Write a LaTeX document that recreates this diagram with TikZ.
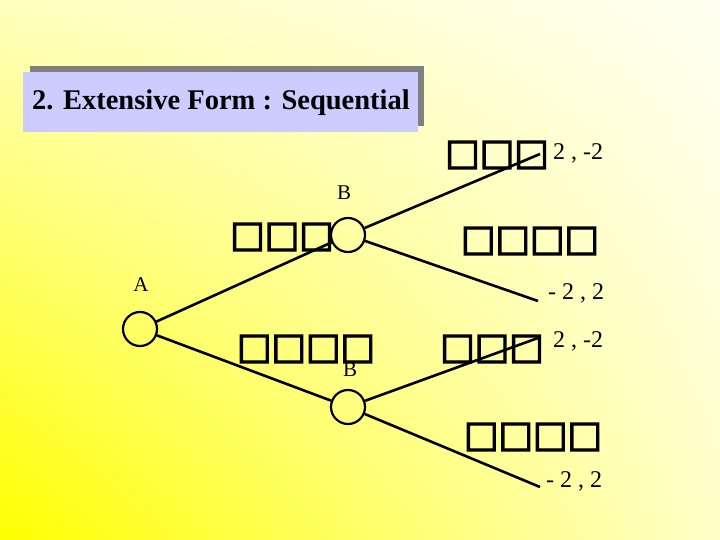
\documentclass[tikz,border=0pt]{standalone}
\usepackage{fontspec}
\setmainfont{Liberation Serif}
\newfontfamily\boxfont[FakeBold=3.5]{DejaVu Sans}
\usepackage{tikz}
\usetikzlibrary{positioning, shadings}
\definecolor{bgdeep}{RGB}{255,255,0}
\definecolor{bgpale}{RGB}{255,255,242}
\definecolor{bgmidA}{RGB}{255,255,190}
\definecolor{bgmidB}{RGB}{255,255,200}
\definecolor{titlefill}{RGB}{204,204,255}
\definecolor{shadowgray}{RGB}{128,128,128}

\begin{document}
\begin{tikzpicture}[x=1pt, y=-1pt,
  decision/.style = {draw, circle, line width=2.2pt, minimum size=34pt, inner sep=0pt},
  move/.style = {line width=2.6pt},
  player/.style = {font=\fontsize{21}{24}\selectfont},
  payoff/.style = {font=\fontsize{24}{28}\selectfont, anchor=west, inner sep=0pt},
  glyphs/.style = {font=\boxfont\fontsize{36.5}{40}\selectfont, inner sep=0pt},
]
\useasboundingbox (0,0) rectangle (720,540);
\shade[lower left=bgdeep, upper right=bgpale, upper left=bgmidA, lower right=bgmidB]
  (0,0) rectangle (720,540);

% title
\fill[shadowgray] (30,66) rectangle (424,126);
\fill[titlefill] (23,72) rectangle (418,132);
\node[font=\bfseries\fontsize{28.5}{32}\selectfont] (title) at (221,103) {2. Extensive Form : Sequential};

% tree
\node[decision] (A) at (140,329) {};
\node[decision] (B1) at (348,235) {};
\node[decision] (B2) at (348,407) {};
\node[player] (labA) at (141,285) {A};
\node[player] (labB1) at (344,193) {B};
\node[player] (labB2) at (350,370) {B};

\coordinate (e1) at (540,154);
\coordinate (e2) at (538,301);
\coordinate (e3) at (538,338);
\coordinate (e4) at (540,487);

\draw[move] (A) -- (B1);
\draw[move] (A) -- (B2);
\draw[move] (B1) -- (e1);
\draw[move] (B1) -- (e2);
\draw[move] (B2) -- (e3);
\draw[move] (B2) -- (e4);

% payoffs
\node[payoff] (p1) at (553,153) {2 , -2};
\node[payoff] (p2) at (548,293) {- 2 , 2};
\node[payoff] (p3) at (553,341) {2 , -2};
\node[payoff] (p4) at (546,481) {- 2 , 2};

% move labels
\node[glyphs] (m1) at (497,155) {□□□};
\node[glyphs] (m2) at (282,237) {□□□};
\node[glyphs] (m3) at (530,241) {□□□□};
\node[glyphs] (m4) at (306,349) {□□□□};
\node[glyphs] (m5) at (492,349) {□□□};
\node[glyphs] (m6) at (533,437) {□□□□};
\end{tikzpicture}
\end{document}
